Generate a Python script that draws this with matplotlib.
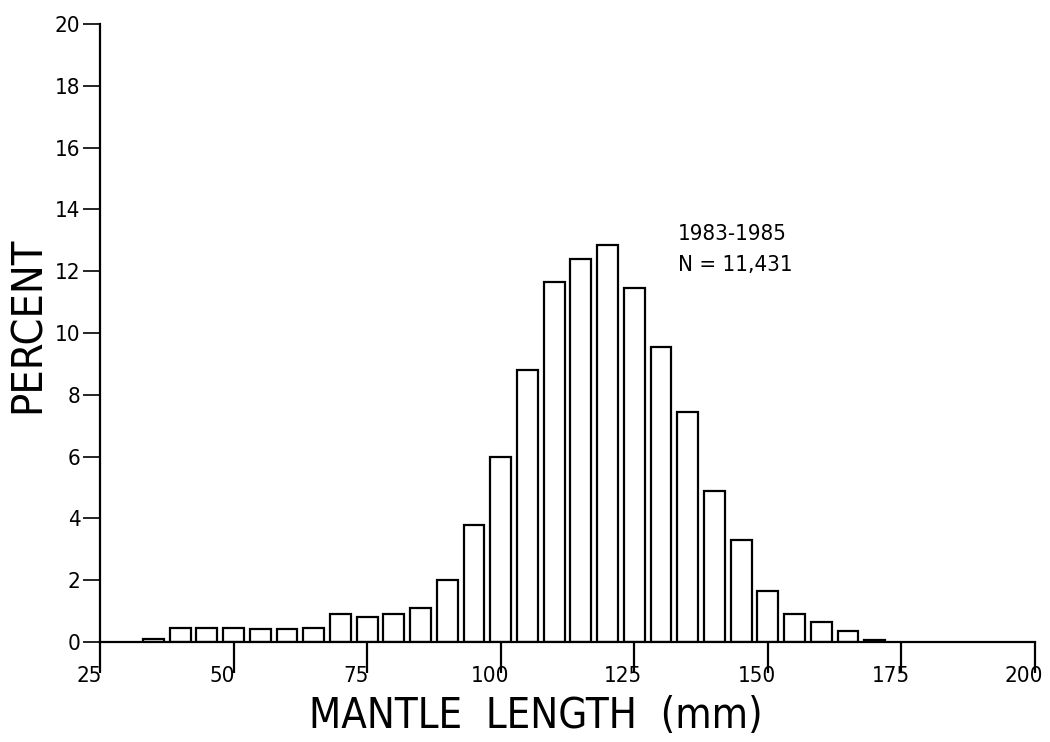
import matplotlib
matplotlib.use("Agg")
import matplotlib.pyplot as plt
import matplotlib.transforms as mtransforms
import numpy as np

# mantle length bin centres (mm) and percent of sample
lengths = [35, 40, 45, 50, 55, 60, 65, 70, 75, 80, 85, 90, 95, 100,
           105, 110, 115, 120, 125, 130, 135, 140, 145, 150, 155, 160, 165, 170]
percent = [0.1, 0.45, 0.45, 0.45, 0.42, 0.42, 0.45, 0.9, 0.82, 0.92, 1.1, 2.0, 3.8, 6.0,
           8.8, 11.65, 12.4, 12.85, 11.45, 9.55, 7.45, 4.9, 3.3, 1.65, 0.9, 0.65, 0.35, 0.08]
x_ticks = [25, 50, 75, 100, 125, 150, 175, 200]
y_ticks = list(range(0, 21, 2))

font = dict(family="DejaVu Sans", fontstretch="condensed", fontweight="light")

fig = plt.figure(figsize=(10.5, 7.42), dpi=100)
ax = fig.add_axes([100 / 1050, 1 - 642 / 742, 935 / 1050, 618 / 742])

ax.bar(lengths, percent, width=3.9, facecolor="white", edgecolor="black", linewidth=1.6)

ax.set_xlim(25, 200)
ax.set_ylim(0, 20)
ax.set_xticks(x_ticks)
ax.set_yticks(y_ticks)
ax.spines["top"].set_visible(False)
ax.spines["right"].set_visible(False)
for s in ("left", "bottom"):
    ax.spines[s].set_linewidth(1.6)
ax.tick_params(axis="x", direction="out", length=22, width=1.6, pad=-5, labelsize=16)
ax.tick_params(axis="y", direction="out", length=12, width=1.2, pad=2, labelsize=16)

# plotter labels sit a little left of their ticks
shift = mtransforms.ScaledTranslation(-11 / 100, 0, fig.dpi_scale_trans)
for lab in ax.get_xticklabels():
    lab.set_transform(lab.get_transform() + shift)
    lab.set(**font)
for lab in ax.get_yticklabels():
    lab.set(**font)

fig.text(28 / 1050, 1 - 325 / 742, "PERCENT", rotation=90, ha="center", va="center",
         fontsize=31, **font)
fig.text(536 / 1050, 1 - 716 / 742, "MANTLE  LENGTH  (mm)", ha="center", va="center",
         fontsize=30, **font)

ax.text(133.2, 13.2, "1983-1985", ha="left", va="center", fontsize=16, **font)
ax.text(133.2, 12.2, "N = 11,431", ha="left", va="center", fontsize=16, **font)

fig.savefig("out.png", dpi=100)
